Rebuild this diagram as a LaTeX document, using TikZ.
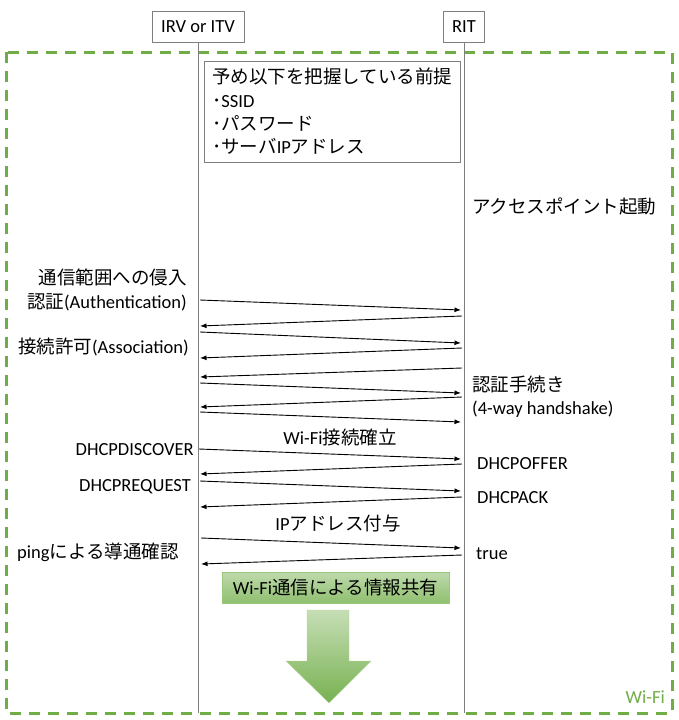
\documentclass[tikz,border=0pt]{standalone}
\usepackage{fontspec}
\setmainfont{Carlito}
\newfontfamily\jp{Noto Sans CJK JP}
\usetikzlibrary{arrows.meta}
\definecolor{wifigreen}{HTML}{70AD47}
\definecolor{lifegray}{HTML}{7F7F7F}
\begin{document}
\begin{tikzpicture}[x=1pt, y=-1pt, lbl/.style={font=\fontsize{18.5}{22}\selectfont, inner sep=0pt}]
  \tikzset{actor/.style={lbl, draw=lifegray, line width=0.8pt, minimum height=31pt, fill=white}}
  \tikzset{msg/.style={-{Latex[length=6.5pt,width=5pt]}, line width=0.9pt}}
  \useasboundingbox (0,0) rectangle (678,720);
  % wifi area
  \draw[wifigreen, line width=3pt, dash pattern=on 11pt off 8pt] (6,52) rectangle (672,713);
  \node[lbl, text=wifigreen, anchor=base east] (wifi) at (665,703.5) {Wi-Fi};
  % actors and lifelines
  \node[actor, minimum width=92pt] (irv) at (198,26.5) {IRV or ITV};
  \node[actor, minimum width=41pt] (rit) at (464,26.5) {RIT};
  \coordinate (irvend) at (198,713);
  \coordinate (ritend) at (464,713);
  \draw[lifegray, line width=0.8pt] (irv.south) -- (irvend);
  \draw[lifegray, line width=0.8pt] (rit.south) -- (ritend);
  % premise
  \draw[lifegray, line width=0.8pt] (204,61) rectangle (460,162);
  \node[lbl, anchor=base west] (pre0) at (212,83.5) {\jp 予め以下を把握している前提};
  \node[lbl, anchor=base west] (pre1) at (212,107.5) {{\jp ･}SSID};
  \node[lbl, anchor=base west] (pre2) at (212,130.5) {\jp ･パスワード};
  \node[lbl, anchor=base west] (pre3) at (212,153.5) {{\jp ･サーバ}IP{\jp アドレス}};
  \node[lbl, anchor=base west] (ap) at (472,213.5) {\jp アクセスポイント起動};
  % left labels
  \node[lbl, anchor=base east] (enter) at (187,284.5) {\jp 通信範囲への侵入};
  \node[lbl, anchor=base east] (auth) at (187,308.5) {{\jp 認証}(Authentication)};
  \node[lbl, anchor=base east] (assoc) at (189,353.5) {{\jp 接続許可}(Association)};
  \node[lbl, anchor=base east] (disc) at (194,455.5) {DHCPDISCOVER};
  \node[lbl, anchor=base east] (req) at (191,491.5) {DHCPREQUEST};
  \node[lbl, anchor=base west] (ping) at (17,558.5) {ping{\jp による導通確認}};
  % right labels
  \node[lbl, anchor=base west] (hs1) at (472,391.5) {\jp 認証手続き};
  \node[lbl, anchor=base west] (hs2) at (472,414.5) {(4-way handshake)};
  \node[lbl, anchor=base west] (offer) at (477,469.5) {DHCPOFFER};
  \node[lbl, anchor=base west] (ack) at (477,503.5) {DHCPACK};
  \node[lbl, anchor=base west] (true) at (476,559.5) {true};
  % middle labels
  \node[lbl, anchor=base] (est) at (340,444.5) {Wi-Fi{\jp 接続確立}};
  \node[lbl, anchor=base] (ipset) at (338,530.5) {IP{\jp アドレス付与}};
  % messages
  \coordinate (i1) at (200,300); \coordinate (r1) at (461,310);
  \coordinate (i2) at (200,326); \coordinate (r2) at (462,316);
  \coordinate (i3) at (200,332); \coordinate (r3) at (461,343);
  \coordinate (i4) at (200,358); \coordinate (r4) at (462,348);
  \coordinate (i5) at (200,377); \coordinate (r5) at (462,368);
  \coordinate (i6) at (200,383); \coordinate (r6) at (461,393);
  \coordinate (i7) at (200,407); \coordinate (r7) at (462,397);
  \coordinate (i8) at (200,412); \coordinate (r8) at (461,422);
  \coordinate (i9) at (199,449); \coordinate (r9) at (461,459);
  \coordinate (i10) at (200,474); \coordinate (r10) at (462,464);
  \coordinate (i11) at (200,481); \coordinate (r11) at (461,491);
  \coordinate (i12) at (200,507); \coordinate (r12) at (462,497);
  \coordinate (i13) at (201,538); \coordinate (r13) at (461,548);
  \coordinate (i14) at (201,564); \coordinate (r14) at (462,555);
  \draw[msg] (i1) -- (r1);
  \draw[msg] (r2) -- (i2);
  \draw[msg] (i3) -- (r3);
  \draw[msg] (r4) -- (i4);
  \draw[msg] (r5) -- (i5);
  \draw[msg] (i6) -- (r6);
  \draw[msg] (r7) -- (i7);
  \draw[msg] (i8) -- (r8);
  \draw[msg] (i9) -- (r9);
  \draw[msg] (r10) -- (i10);
  \draw[msg] (i11) -- (r11);
  \draw[msg] (r12) -- (i12);
  \draw[msg] (i13) -- (r13);
  \draw[msg] (r14) -- (i14);
  % sharing
  \node[lbl, draw=wifigreen!70, top color=wifigreen!45, bottom color=wifigreen!78,
        minimum width=227pt, minimum height=31pt] (share) at (335.5,587.5) {Wi-Fi{\jp 通信による情報共有}};
  \shade[top color=wifigreen!40, bottom color=wifigreen!95, draw=wifigreen!50]
    (307,610) -- (349,610) -- (349,661) -- (371,661) -- (329,703) -- (286,661) -- (307,661) -- cycle;
\end{tikzpicture}
\end{document}
